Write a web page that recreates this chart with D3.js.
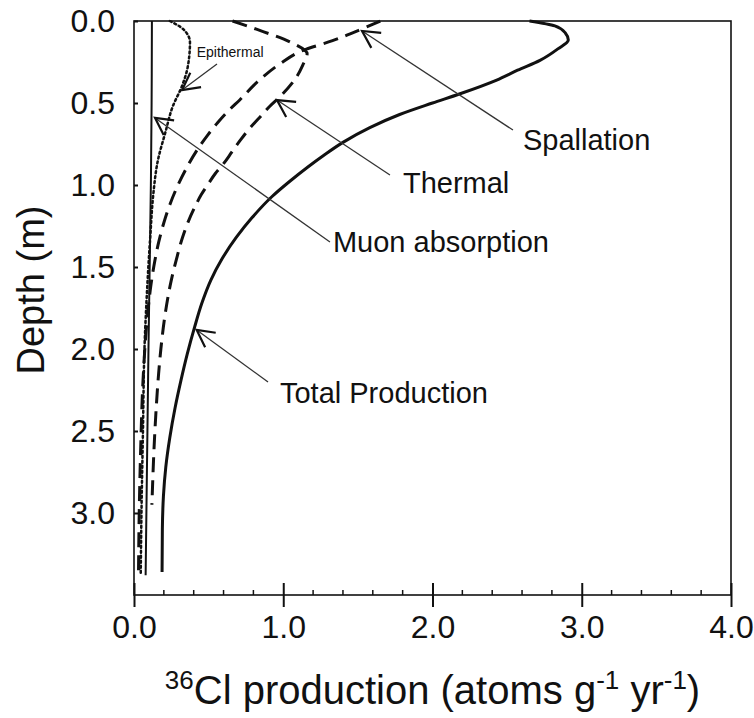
<!DOCTYPE html>
<html><head><meta charset="utf-8">
<script src="https://cdn.jsdelivr.net/npm/d3@7"></script>
<style>html,body{margin:0;padding:0;background:#fff}svg{display:block}</style>
</head><body>
<svg id="chart" width="754" height="718"></svg>
<script>
// ---- data (production in atoms g^-1 yr^-1, depth in m) ----
const xTicks = [0, 1, 2, 3, 4];
const yTicks = [0, 0.5, 1.0, 1.5, 2.0, 2.5, 3.0];

const depthTotal = [0, 0.03, 0.073, 0.116, 0.17, 0.24, 0.30, 0.36, 0.445, 0.50, 0.57, 0.65, 0.74, 0.82, 0.89, 0.98, 1.07, 1.2, 1.32, 1.45, 1.58, 1.72, 1.87, 2.03, 2.19, 2.36, 2.54, 2.72, 2.9, 3.1, 3.36];
const totalProd  = [2.65, 2.82, 2.89, 2.91, 2.84, 2.72, 2.57, 2.43, 2.18, 2.0, 1.78, 1.58, 1.40, 1.27, 1.165, 1.04, 0.925, 0.79, 0.685, 0.59, 0.515, 0.455, 0.405, 0.357, 0.315, 0.275, 0.24, 0.213, 0.197, 0.19, 0.188];

const depthSpall = [0, 0.055, 0.12, 0.18, 0.26, 0.36, 0.48, 0.55, 0.62, 0.70, 0.79, 0.9, 1.01, 1.12, 1.23, 1.35, 1.46, 1.6, 1.8, 2.2, 2.6, 3.0, 3.38];
const spallation = [1.65, 1.51, 1.33, 1.13, 0.98, 0.84, 0.71, 0.63, 0.56, 0.49, 0.42, 0.35, 0.29, 0.24, 0.20, 0.165, 0.14, 0.115, 0.09, 0.06, 0.045, 0.035, 0.03];

const depthThermal = [0, 0.05, 0.13, 0.2, 0.27, 0.34, 0.46, 0.52, 0.59, 0.66, 0.73, 0.80, 0.87, 0.93, 0.99, 1.06, 1.13, 1.22, 1.32, 1.45, 1.58, 1.78, 2.0, 2.15, 2.5, 2.95];
const thermal      = [0.66, 0.82, 1.05, 1.16, 1.13, 1.09, 0.98, 0.91, 0.84, 0.77, 0.71, 0.655, 0.60, 0.545, 0.50, 0.45, 0.41, 0.365, 0.325, 0.285, 0.25, 0.21, 0.18, 0.165, 0.14, 0.12];

const depthEpi = [0, 0.05, 0.13, 0.28, 0.40, 0.52, 0.68, 0.85, 1.05, 1.3, 1.6, 2.0, 2.5, 3.0, 3.38];
const epithermal = [0.24, 0.33, 0.375, 0.36, 0.32, 0.26, 0.21, 0.16, 0.13, 0.11, 0.09, 0.07, 0.06, 0.05, 0.045];

const depthMuon = [0, 0.5, 1.0, 1.5, 2.0, 2.5, 3.0, 3.38];
const muon      = [0.12, 0.118, 0.113, 0.105, 0.097, 0.09, 0.083, 0.078];

// annotation labels: text anchor, leader start, arrow tip (data units)
const annLabels = ["Epithermal", "Spallation", "Thermal", "Muon absorption", "Total Production"];
const annText   = [[0.42, 0.22], [2.606, 0.787], [1.802, 1.049], [1.333, 1.409], [0.978, 2.329]];
const annStart  = [[0.556, 0.262], [2.539, 0.665], [1.715, 0.939], [1.313, 1.348], [0.898, 2.201]];
const annTip    = [[0.322, 0.421], [1.528, 0.061], [0.958, 0.482], [0.141, 0.591], [0.42, 1.884]];
const annSize   = [14, 29, 29, 29, 29];

// ---- layout ----
const svg = d3.select("#chart");
const L = 134, R = 731, T = 21, B = 595;
const FONT = "'Liberation Sans', Arial, Helvetica, sans-serif";
const x = d3.scaleLinear().domain([0, 4]).range([L, R]);
const y = d3.scaleLinear().domain([0, 3.5]).range([T, B]);

svg.append("defs").append("marker")
  .attr("id", "chev").attr("markerUnits", "userSpaceOnUse")
  .attr("viewBox", "-20 -12 24 24").attr("markerWidth", 24).attr("markerHeight", 24)
  .attr("refX", 0).attr("refY", 0).attr("orient", "auto")
  .append("path").attr("d", "M-17,-9 L0,0 L-17,9")
  .attr("fill", "none").attr("stroke", "#111").attr("stroke-width", 2.2);

// frame
svg.append("rect").attr("x", L).attr("y", T).attr("width", R - L).attr("height", B - T)
  .attr("fill", "none").attr("stroke", "#111").attr("stroke-width", 1.6);

// x axis
const xAxis = svg.append("g").attr("transform", `translate(0,${B})`)
  .call(d3.axisBottom(x).tickValues(xTicks).tickFormat(d3.format(".1f")).tickSize(12).tickSizeOuter(0));
xAxis.select(".domain").remove();
xAxis.selectAll(".tick line").attr("y1", -12).attr("stroke", "#111").attr("stroke-width", 2);
xAxis.selectAll(".tick text").attr("y", 20).attr("dy", "0.71em")
  .style("font-family", FONT).style("font-size", "32px").attr("fill", "#111");
const xMinor = d3.range(0, 4.001, 0.2).filter(v => Math.abs(v - Math.round(v)) > 1e-6);
svg.append("g").selectAll("line").data(xMinor).join("line")
  .attr("x1", d => x(d)).attr("x2", d => x(d)).attr("y1", B).attr("y2", B - 5)
  .attr("stroke", "#111").attr("stroke-width", 1.5);

// y axis
const yAxis = svg.append("g").attr("transform", `translate(${L},0)`)
  .call(d3.axisLeft(y).tickValues(yTicks).tickFormat(d3.format(".1f")).tickSize(7).tickSizeOuter(0));
yAxis.select(".domain").remove();
yAxis.selectAll(".tick line").attr("x2", 4).attr("stroke", "#111").attr("stroke-width", 2);
yAxis.selectAll(".tick text").attr("x", -19)
  .style("font-family", FONT).style("font-size", "32px").attr("fill", "#111");

// curves
function curve(xs, ds, dash, width) {
  const pts = xs.map((v, i) => [v, ds[i]]);
  svg.append("path").datum(pts)
    .attr("d", d3.line().x(d => x(d[0])).y(d => y(d[1])).curve(d3.curveMonotoneY))
    .attr("fill", "none").attr("stroke", "#111").attr("stroke-width", width)
    .attr("stroke-dasharray", dash).attr("stroke-linecap", dash === "2,3" ? "round" : "butt");
}
curve(muon, depthMuon, null, 2);
curve(epithermal, depthEpi, "2,3", 2.5);
curve(thermal, depthThermal, "15,8", 3);
curve(spallation, depthSpall, "15,8", 3);
curve(totalProd, depthTotal, null, 3);

// annotations
annLabels.forEach((lab, i) => {
  svg.append("line")
    .attr("x1", x(annStart[i][0])).attr("y1", y(annStart[i][1]))
    .attr("x2", x(annTip[i][0])).attr("y2", y(annTip[i][1]))
    .attr("stroke", "#333").attr("stroke-width", 1.3).attr("marker-end", "url(#chev)");
  svg.append("text").attr("x", x(annText[i][0])).attr("y", y(annText[i][1]))
    .style("font-family", FONT).style("font-size", annSize[i] + "px").attr("fill", "#111").text(lab);
});

// axis titles
svg.append("text").attr("transform", "translate(44,290) rotate(-90)").attr("text-anchor", "middle")
  .style("font-family", FONT).style("font-size", "38px").attr("fill", "#111").text("Depth (m)");

const xt = svg.append("text").attr("x", (L + R) / 2).attr("y", 704).attr("text-anchor", "middle")
  .style("font-family", FONT).style("font-size", "40px").attr("fill", "#111");
xt.append("tspan").attr("dy", -15).style("font-size", "26px").text("36");
xt.append("tspan").attr("dy", 15).text("Cl production (atoms g");
xt.append("tspan").attr("dy", -15).style("font-size", "26px").text("-1");
xt.append("tspan").attr("dy", 15).text(" yr");
xt.append("tspan").attr("dy", -15).style("font-size", "26px").text("-1");
xt.append("tspan").attr("dy", 15).text(")");
</script>
</body></html>
